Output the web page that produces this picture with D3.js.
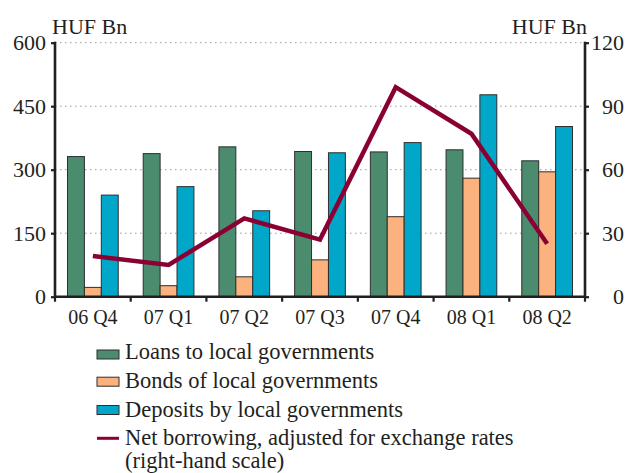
<!DOCTYPE html>
<html><head><meta charset="utf-8">
<script src="https://cdn.jsdelivr.net/npm/d3@7"></script>
<style>
html,body{margin:0;padding:0;background:#fff;}
</style></head>
<body><svg id="c" width="626" height="473"></svg>
<script>
const categories = ["06 Q4","07 Q1","07 Q2","07 Q3","07 Q4","08 Q1","08 Q2"];
const loans    = [331, 338, 354, 343, 342, 347, 321];
const bonds    = [22, 26, 47, 87, 189, 280, 295];
const deposits = [240, 260, 203, 340, 364, 477, 402];
const netBorrowing = [19.2, 15, 37, 27, 99, 77, 25];
const leftTicks  = [0, 150, 300, 450, 600];
const rightTicks = [0, 30, 60, 90, 120];
const seriesNames = ["Loans to local governments","Bonds of local governments","Deposits by local governments"];
const lineName = ["Net borrowing, adjusted for exchange rates","(right-hand scale)"];
const unitLabel = "HUF Bn";

const colors = ["#4b8b6e","#fbb27f","#00a7c9"];
const lineColor = "#8b0033";
const ink = "#231f20";
const FONT = "Liberation Serif";

const svg = d3.select("#c");
const L = 55, R = 585, T = 42.7, B = 296.7;

const x = d3.scaleBand().domain(categories).range([L, R]).paddingInner(0.33).paddingOuter(0.165);
const x1 = d3.scaleBand().domain([0,1,2]).range([0, x.bandwidth()]);
const yL = d3.scaleLinear().domain([0, 600]).range([B, T]);
const yR = d3.scaleLinear().domain([0, 120]).range([B, T]);

function txt(sel, size) {
  return sel.attr("font-family", FONT).attr("font-size", size).attr("fill", ink);
}

// gridlines
svg.append("g").selectAll("line").data(leftTicks.filter(d => d > 0)).join("line")
  .attr("x1", L).attr("x2", R).attr("y1", d => yL(d)).attr("y2", d => yL(d))
  .attr("stroke", "#9a9a9a").attr("stroke-width", 1).attr("stroke-dasharray", "1.5,3.5");

// bars
const series = [loans, bonds, deposits];
const g = svg.append("g");
categories.forEach((c, i) => {
  series.forEach((s, k) => {
    g.append("rect")
      .attr("x", x(c) + x1(k))
      .attr("y", yL(s[i]))
      .attr("width", x1.bandwidth())
      .attr("height", yL(0) - yL(s[i]))
      .attr("fill", colors[k])
      .attr("stroke", "#2e2e2e").attr("stroke-width", 1);
  });
});

// line
const line = d3.line().x((d, i) => x(categories[i]) + x.bandwidth() / 2).y(d => yR(d));
svg.append("path").datum(netBorrowing).attr("d", line)
  .attr("fill", "none").attr("stroke", lineColor).attr("stroke-width", 4.5)
  .attr("stroke-linejoin", "miter");

// axes
const axL = svg.append("g").attr("transform", `translate(${L},0)`)
  .call(d3.axisLeft(yL).tickValues(leftTicks).tickSize(4).tickPadding(6));
const axR = svg.append("g").attr("transform", `translate(${R},0)`)
  .call(d3.axisRight(yR).tickValues(rightTicks).tickSize(4).tickPadding(5));
[axL, axR].forEach(a => {
  a.attr("font-family", FONT).attr("font-size", 22);
  a.select(".domain").attr("stroke", ink).attr("stroke-width", 2.6);
  a.selectAll(".tick line").attr("stroke", ink).attr("stroke-width", 2.2);
  txt(a.selectAll("text"), 22);
});
axL.select(".domain").attr("d", `M0,${B}V${T - 1}`);
axR.select(".domain").attr("d", `M0,${B}V${T - 1}`);
axL.selectAll("text").attr("x", -9);
axR.selectAll("text").attr("text-anchor", "end").attr("x", 39);

// bottom axis
const step = x.step();
const bounds = categories.map(c => x(c) - step * 0.165).concat([R]);
const axB = svg.append("g");
axB.append("line").attr("x1", L - 1).attr("x2", R + 1).attr("y1", B).attr("y2", B)
  .attr("stroke", ink).attr("stroke-width", 2.6);
axB.selectAll(".tk").data(bounds).join("line").attr("class", "tk")
  .attr("x1", d => d).attr("x2", d => d).attr("y1", B).attr("y2", B + 5)
  .attr("stroke", ink).attr("stroke-width", 2.2);
txt(axB.selectAll("text").data(categories).join("text"), 20)
  .attr("x", d => x(d) + x.bandwidth() / 2).attr("y", 324)
  .attr("text-anchor", "middle").text(d => d);

// unit labels
txt(svg.append("text"), 22).attr("x", 52).attr("y", 34).text(unitLabel);
txt(svg.append("text"), 22).attr("x", 587).attr("y", 34).attr("text-anchor", "end").text(unitLabel);

// legend
const lg = svg.append("g");
const rows = [354.5, 381.7, 410];
const baselines = [359, 388, 417];
seriesNames.forEach((n, k) => {
  lg.append("rect").attr("x", 97).attr("y", rows[k] - 4.5).attr("width", 22).attr("height", 9)
    .attr("fill", colors[k]).attr("stroke", "#2e2e2e").attr("stroke-width", 1);
  txt(lg.append("text"), 22.5).attr("x", 125).attr("y", baselines[k]).text(n);
});
lg.append("line").attr("x1", 97).attr("x2", 119).attr("y1", 438.3).attr("y2", 438.3)
  .attr("stroke", lineColor).attr("stroke-width", 3);
txt(lg.append("text"), 22.5).attr("x", 125).attr("y", 445).text(lineName[0]);
txt(lg.append("text"), 22.5).attr("x", 125).attr("y", 467.5).text(lineName[1]);
</script></body></html>
